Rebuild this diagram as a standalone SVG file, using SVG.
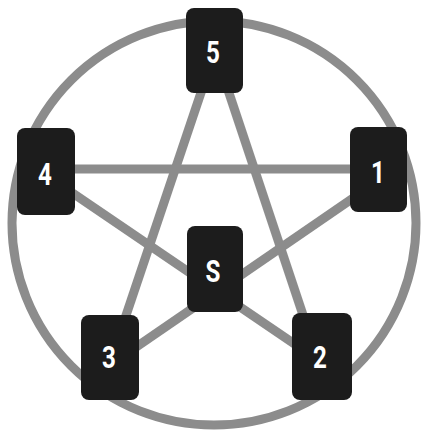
<svg xmlns="http://www.w3.org/2000/svg" width="424" height="433" viewBox="0 0 424 433">
<style>
.ring{fill:none;stroke:#8c8c8c;stroke-width:9}
.edge{stroke:#8c8c8c;stroke-width:9;stroke-linecap:butt}
.card{fill:#1c1c1c}
.lbl{fill:#ffffff;font-family:"Roboto","Liberation Sans",sans-serif;font-weight:bold;font-size:31px;text-anchor:middle}
</style>
<rect width="424" height="433" fill="#ffffff"/>
<g id="connectors">
<circle class="ring" cx="214" cy="223" r="202"/>
<line class="edge" x1="215" y1="51" x2="112" y2="357"/>
<line class="edge" x1="215" y1="51" x2="317" y2="357"/>
<line class="edge" x1="46" y1="169" x2="378" y2="169"/>
<line class="edge" x1="46" y1="175" x2="321" y2="362"/>
<line class="edge" x1="378" y1="181" x2="110" y2="365"/>
</g>
<g id="node-5"><rect class="card" x="186" y="8" width="57" height="85" rx="8"/><text class="lbl" transform="translate(213,63) scale(0.78,1)">5</text></g>
<g id="node-4"><rect class="card" x="17" y="128" width="58" height="87" rx="8"/><text class="lbl" transform="translate(45,185) scale(0.78,1)">4</text></g>
<g id="node-1"><rect class="card" x="350" y="127" width="57" height="85" rx="8"/><text class="lbl" transform="translate(378,183) scale(0.78,1)">1</text></g>
<g id="node-S"><rect class="card" x="187" y="226" width="56" height="86" rx="8"/><text class="lbl" transform="translate(213,282) scale(0.78,1)">S</text></g>
<g id="node-3"><rect class="card" x="81" y="315" width="58" height="85" rx="8"/><text class="lbl" transform="translate(109,368) scale(0.78,1)">3</text></g>
<g id="node-2"><rect class="card" x="292" y="313" width="60" height="87" rx="8"/><text class="lbl" transform="translate(320,368) scale(0.78,1)">2</text></g>
</svg>
